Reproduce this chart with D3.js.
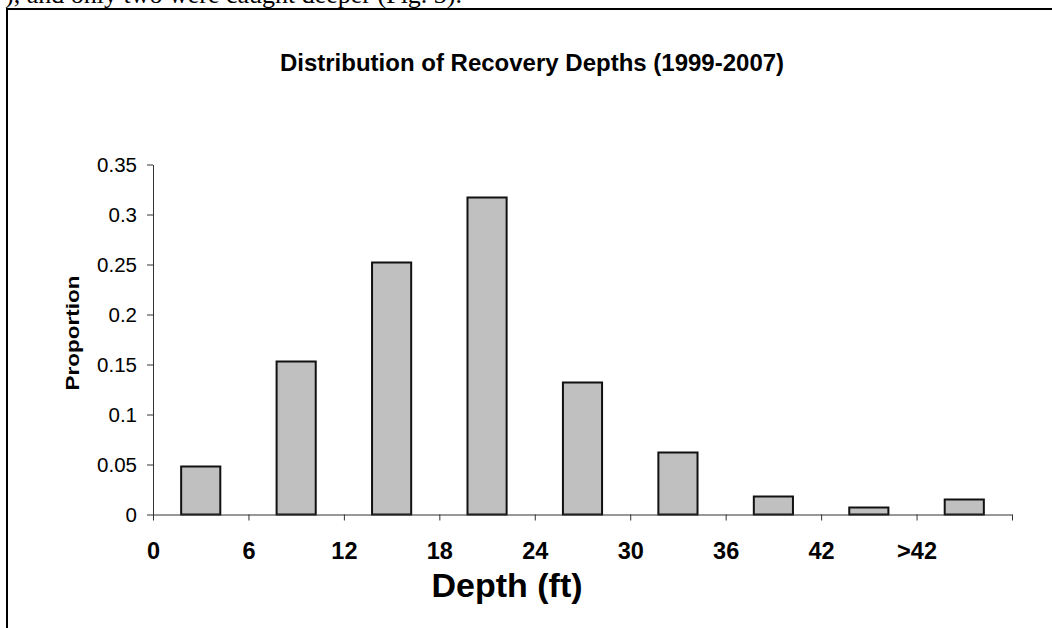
<!DOCTYPE html>
<html>
<head>
<meta charset="utf-8">
<script src="https://cdn.jsdelivr.net/npm/d3@7"></script>
<style>
  html, body { margin: 0; padding: 0; background: #fff; }
  svg { display: block; }
</style>
</head>
<body>
<svg id="chart" width="1052" height="628"></svg>
<script>
// Depth bins (ft) and the proportion of recoveries in each
const binLabels = ["0", "6", "12", "18", "24", "30", "36", "42", ">42"];
const proportions = [0.048, 0.153, 0.252, 0.317, 0.132, 0.062, 0.018, 0.007, 0.015];
const yTickValues = [0, 0.05, 0.1, 0.15, 0.2, 0.25, 0.3, 0.35];
const yTickLabels = ["0", "0.05", "0.1", "0.15", "0.2", "0.25", "0.3", "0.35"];

const svg = d3.select("#chart");
const font = "Arial, 'Liberation Sans', Helvetica, sans-serif";

// Running text of the surrounding page, clipped at the top edge
svg.append("text")
  .attr("x", 5)
  .attr("y", 3)
  .attr("font-family", "'Times New Roman', 'Liberation Serif', serif")
  .attr("font-size", 26)
  .attr("fill", "#000")
  .text("), and only two were caught deeper (Fig. 3).");

// Figure frame
svg.append("rect")
  .attr("x", 7)
  .attr("y", 9)
  .attr("width", 1100)
  .attr("height", 700)
  .attr("fill", "none")
  .attr("stroke", "#000")
  .attr("stroke-width", 2);

const plot = { left: 153, right: 1012, top: 164.5, bottom: 514.5 };

const x = d3.scaleLinear().domain([0, binLabels.length]).range([plot.left, plot.right]);
const y = d3.scaleLinear().domain([0, 0.35]).range([plot.bottom, plot.top]);

// Title
svg.append("text")
  .attr("x", 532)
  .attr("y", 71)
  .attr("text-anchor", "middle")
  .attr("font-family", font)
  .attr("font-weight", "bold")
  .attr("font-size", 24)
  .text("Distribution of Recovery Depths (1999-2007)");

// Bars
const step = x(1) - x(0);
const barW = step * 0.41;
svg.append("g")
  .selectAll("rect")
  .data(proportions)
  .join("rect")
  .attr("x", (d, i) => x(i + 0.5) - barW / 2)
  .attr("y", d => y(d))
  .attr("width", barW)
  .attr("height", d => y(0) - y(d))
  .attr("fill", "#c0c0c0")
  .attr("stroke", "#111")
  .attr("stroke-width", 2);

// Y axis
const yAxis = svg.append("g")
  .attr("transform", `translate(${plot.left},0)`)
  .call(d3.axisLeft(y)
    .tickValues(yTickValues)
    .tickFormat((d, i) => yTickLabels[i])
    .tickSize(6)
    .tickSizeOuter(0)
    .tickPadding(10));
yAxis.select(".domain").attr("stroke", "#333");
yAxis.selectAll(".tick line").attr("stroke", "#333");
yAxis.selectAll(".tick text")
  .attr("font-family", font)
  .attr("font-size", 20.5)
  .attr("fill", "#000");

// X axis: ticks at bin boundaries, labels at the left edge of each bin
const xAxis = svg.append("g")
  .attr("transform", `translate(0,${plot.bottom})`)
  .call(d3.axisBottom(x)
    .tickValues(d3.range(binLabels.length + 1))
    .tickFormat(i => binLabels[i] || "")
    .tickSize(6)
    .tickSizeOuter(0)
    .tickPadding(22));
xAxis.select(".domain").attr("stroke", "#333");
xAxis.selectAll(".tick line").attr("stroke", "#333");
xAxis.selectAll(".tick text")
  .attr("font-family", font)
  .attr("font-weight", "bold")
  .attr("font-size", 23.5)
  .attr("fill", "#000");

// Axis titles
svg.append("text")
  .attr("x", 507)
  .attr("y", 597)
  .attr("text-anchor", "middle")
  .attr("font-family", font)
  .attr("font-weight", "bold")
  .attr("font-size", 34)
  .text("Depth (ft)");

svg.append("text")
  .attr("transform", "translate(79,333) rotate(-90)")
  .attr("text-anchor", "middle")
  .attr("font-family", font)
  .attr("font-weight", "bold")
  .attr("font-size", 19)
  .attr("textLength", 115)
  .attr("lengthAdjust", "spacingAndGlyphs")
  .text("Proportion");
</script>
</body>
</html>
